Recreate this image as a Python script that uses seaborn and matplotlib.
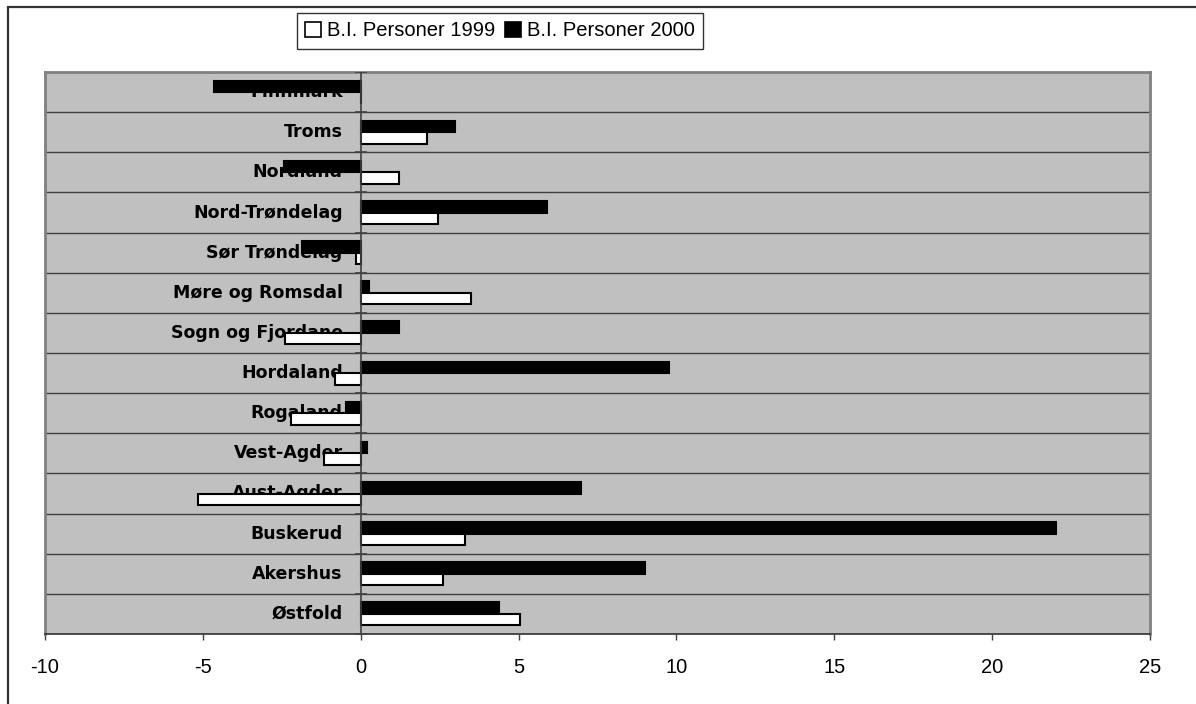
import matplotlib
matplotlib.use("Agg")
import matplotlib.pyplot as plt
import matplotlib.transforms as mtransforms
from matplotlib.patches import Patch, Rectangle
import numpy as np
import pandas as pd
import seaborn as sns

# data (top row first)
fylker = ["Finnmark", "Troms", "Nordland", "Nord-Trøndelag", "Sør Trøndelag",
          "Møre og Romsdal", "Sogn og Fjordane", "Hordaland", "Rogaland",
          "Vest-Agder", "Aust-Agder", "Buskerud", "Akershus", "Østfold"]
personer_1999 = [0.0, 2.09, 1.2, 2.46, -0.15, 3.48, -2.41, -0.83, -2.22,
                 -1.15, -5.14, 3.29, 2.6, 5.06]
personer_2000 = [-4.64, 2.98, -2.43, 5.9, -1.87, 0.27, 1.22, 9.75, -0.46,
                 0.21, 6.97, 22.02, 8.99, 4.38]
serie_navn = ["B.I. Personer 1999", "B.I. Personer 2000"]
x_ticks = [-10, -5, 0, 5, 10, 15, 20, 25]

df = pd.DataFrame({
    "fylke": fylker * 2,
    "verdi": personer_1999 + personer_2000,
    "serie": [serie_navn[0]] * len(fylker) + [serie_navn[1]] * len(fylker),
})

sns.set_style("white")
plt.rcParams["font.family"] = ["Liberation Sans", "DejaVu Sans"]
plt.rcParams["text.color"] = "black"

fig = plt.figure(figsize=(11.96, 7.04), dpi=100)
ax = fig.add_axes([45 / 1196, 1 - 634 / 704, (1150 - 45) / 1196, (634 - 72) / 704])
ax.set_facecolor("#c0c0c0")

sns.barplot(data=df, x="verdi", y="fylke", hue="serie", orient="h",
            hue_order=[serie_navn[1], serie_navn[0]],
            palette={serie_navn[0]: "white", serie_navn[1]: "black"},
            width=0.575, edgecolor="black", linewidth=1.5, legend=False, ax=ax)

n = len(fylker)
ax.set_xlim(-10, 25)
ax.set_ylim(n - 0.5, -0.5)
ax.set_xticks(x_ticks)
ax.set_xticklabels([str(t) for t in x_ticks], fontsize=14.5)
ax.tick_params(axis="x", direction="out", length=4, width=1, color="#404040", pad=13,
               bottom=True, labelcolor="black")
ax.set_yticks([])
ax.set_xlabel("")
ax.set_ylabel("")

# row separators and the zero line with its small ticks
grenser = np.arange(n - 1) + 0.5
ax.hlines(grenser, -10, 25, color="#404040", lw=1, zorder=0.9)
ax.axvline(0, color="#404040", lw=1.2, zorder=3)
ax.plot(np.zeros(n + 1), np.arange(n + 1) - 0.5, ls="none", marker="_",
        markersize=8, color="#404040", mew=1.2, zorder=3)

# category names sit just left of the zero line, under the bars
offset = mtransforms.offset_copy(ax.transData, fig=fig, x=-18, y=0, units="dots")
for i, navn in enumerate(fylker):
    ax.text(0, i, navn, transform=offset, ha="right", va="center",
            fontsize=12.5, fontweight="bold", color="black", zorder=0.95,
            family=["DejaVu Sans"])

for side in ["top", "right", "left"]:
    ax.spines[side].set_color("#808080")
    ax.spines[side].set_linewidth(2)
ax.spines["bottom"].set_color("#303030")
ax.spines["bottom"].set_linewidth(1.2)

handles = [Patch(facecolor="white", edgecolor="black", lw=1.2),
           Patch(facecolor="black", edgecolor="black", lw=1.2)]
leg = fig.legend(handles, serie_navn, loc="center", ncol=2,
                 bbox_to_anchor=(500 / 1196, 1 - 31 / 704), fontsize=14.5,
                 frameon=True, fancybox=False, edgecolor="black",
                 handlelength=0.8, handleheight=0.8, handletextpad=0.3,
                 columnspacing=0.5, borderpad=0.4)
leg.get_frame().set_linewidth(1)
for t in leg.get_texts():
    t.set_color("black")

# outer chart border (only top and left edges fall inside the image)
fig.add_artist(Rectangle((8 / 1196, -0.2), 1.5, 1.2 - 7 / 704, transform=fig.transFigure,
                         fill=False, edgecolor="#333333", lw=1.6, clip_on=False))

fig.savefig("out.png", dpi=100)
